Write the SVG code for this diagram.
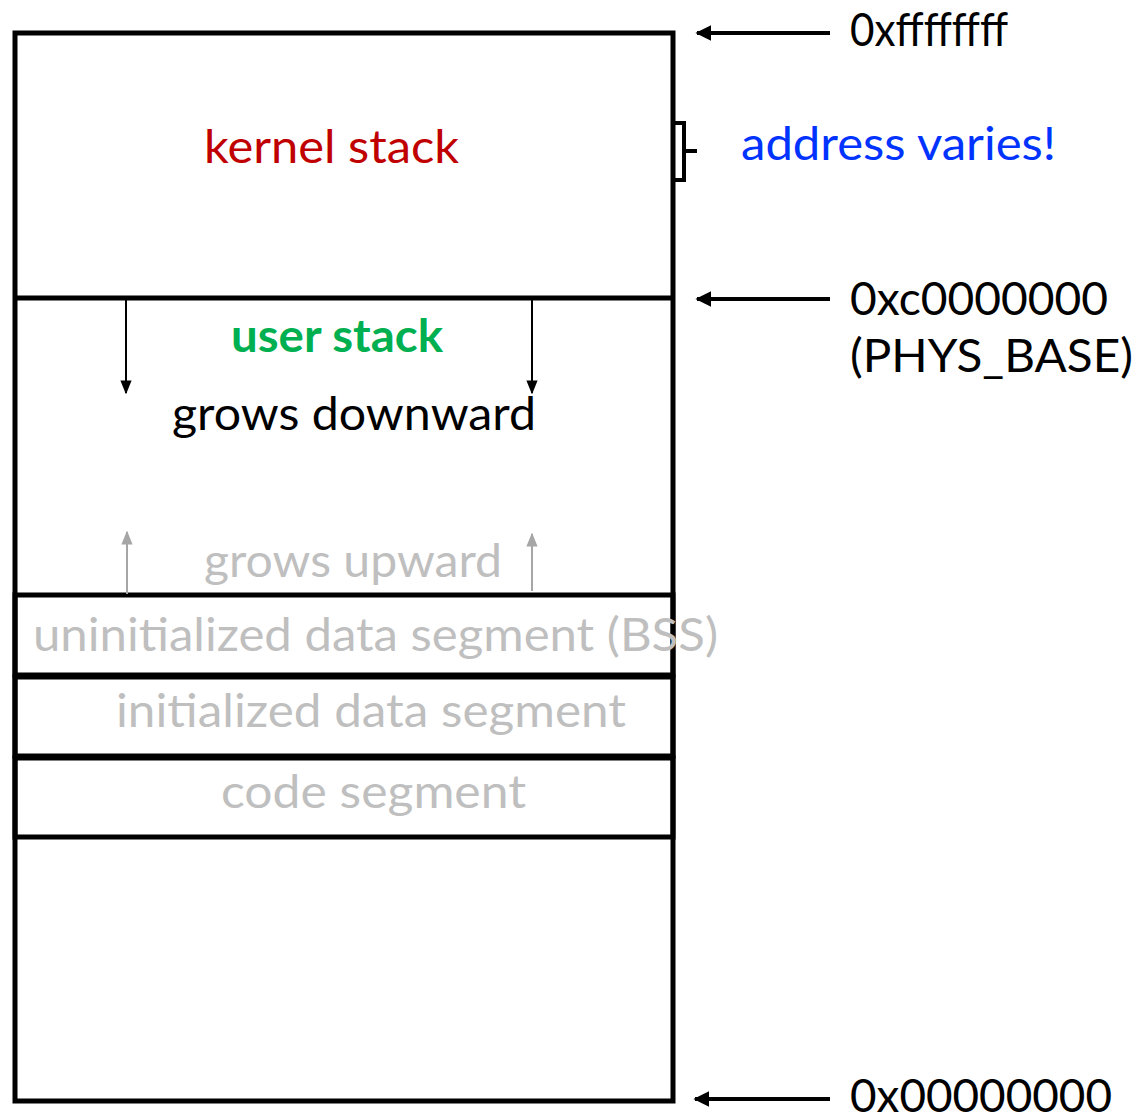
<svg xmlns="http://www.w3.org/2000/svg" width="1137" height="1116" viewBox="0 0 1137 1116">
<defs>
<style>
.box{fill:none;stroke:#000;stroke-width:5}
.t{font-family:Lato,"Noto Sans","Liberation Sans",sans-serif;font-size:46px}
.lt{font-weight:400}
.gray{fill:#bfbfbf}
.con{stroke:#000;stroke-width:4;fill:none}
.thin{stroke:#000;stroke-width:2;fill:none}
.gthin{stroke:#a6a6a6;stroke-width:2;fill:none}
</style>
<marker id="ah" viewBox="0 0 10 10" refX="9" refY="5" markerWidth="4" markerHeight="4" orient="auto" markerUnits="strokeWidth"><path d="M0,0 L10,5 L0,10 z" fill="#000"/></marker>
<marker id="ahs" viewBox="0 0 10 10" refX="9" refY="5" markerWidth="7" markerHeight="7" orient="auto" markerUnits="strokeWidth"><path d="M0,1 L10,5 L0,9 z" fill="#000"/></marker>
<marker id="ahg" viewBox="0 0 10 10" refX="9" refY="5" markerWidth="7" markerHeight="7" orient="auto" markerUnits="strokeWidth"><path d="M0,1 L10,5 L0,9 z" fill="#a6a6a6"/></marker>
</defs>
<rect width="1137" height="1116" fill="#fff"/>
<g id="memory">
<rect class="box" x="15" y="33" width="658" height="1068"/>
</g>
<g id="kernel-stack">
<line class="box" x1="15" y1="298" x2="673" y2="298"/>
<text class="t" x="204" y="163" fill="#c00000" textLength="255" lengthAdjust="spacingAndGlyphs">kernel stack</text>
</g>
<g id="user-stack">
<text class="t" x="231" y="352" fill="#00b050" font-weight="bold" textLength="212" lengthAdjust="spacingAndGlyphs">user stack</text>
<text class="t lt" x="172" y="430" fill="#000" textLength="364" lengthAdjust="spacingAndGlyphs">grows downward</text>
<text class="t lt gray" x="204" y="577" textLength="298" lengthAdjust="spacingAndGlyphs">grows upward</text>
</g>
<g id="bss">
<rect class="box" x="15" y="595" width="658" height="80"/>
<text class="t lt gray" x="33" y="651" textLength="685" lengthAdjust="spacingAndGlyphs">uninitialized data segment (BSS)</text>
</g>
<g id="data">
<rect class="box" x="15" y="677" width="658" height="79"/>
<text class="t lt gray" x="116" y="727" textLength="510" lengthAdjust="spacingAndGlyphs">initialized data segment</text>
</g>
<g id="code">
<rect class="box" x="15" y="758" width="658" height="79"/>
<text class="t lt gray" x="221" y="808" textLength="305" lengthAdjust="spacingAndGlyphs">code segment</text>
</g>
<g id="labels">
<text class="t lt" x="850" y="46" fill="#000" textLength="158" lengthAdjust="spacingAndGlyphs">0xffffffff</text>
<text class="t" x="741" y="160" fill="#0033ff" textLength="315" lengthAdjust="spacingAndGlyphs">address varies!</text>
<text class="t lt" x="850" y="315" fill="#000" textLength="258" lengthAdjust="spacingAndGlyphs">0xc0000000</text>
<text class="t lt" x="850" y="372" fill="#000" textLength="283" lengthAdjust="spacingAndGlyphs">(PHYS_BASE)</text>
<text class="t lt" x="850" y="1112" fill="#000" textLength="262" lengthAdjust="spacingAndGlyphs">0x00000000</text>
</g>
<g id="connectors">
<line class="con" x1="830" y1="33" x2="697" y2="33" marker-end="url(#ah)"/>
<line class="con" x1="830" y1="299" x2="697" y2="299" marker-end="url(#ah)"/>
<line class="con" x1="830" y1="1099" x2="695" y2="1099" marker-end="url(#ah)"/>
<path class="con" d="M675,123 H684 V180 H675 M684,151 H697"/>
<line class="thin" x1="126" y1="300" x2="126" y2="393" marker-end="url(#ahs)"/>
<line class="thin" x1="532" y1="300" x2="532" y2="393" marker-end="url(#ahs)"/>
<line class="gthin" x1="127" y1="594" x2="127" y2="532" marker-end="url(#ahg)"/>
<line class="gthin" x1="532" y1="591" x2="532" y2="534" marker-end="url(#ahg)"/>
</g>
</svg>
